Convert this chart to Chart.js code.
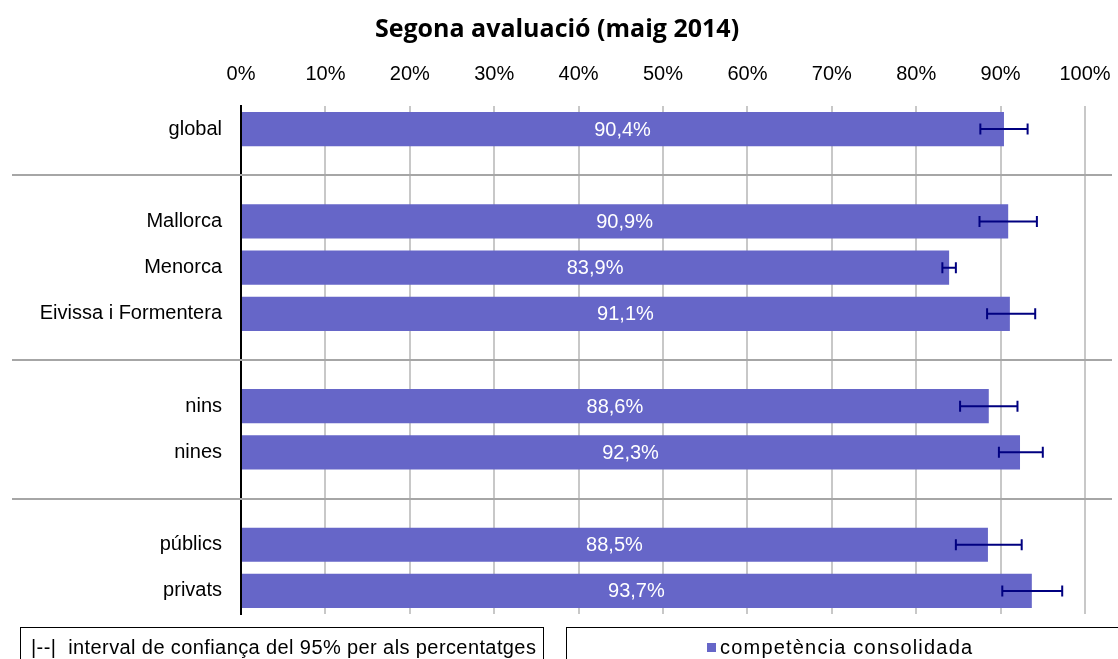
<!DOCTYPE html>
<html lang="ca">
<head>
    <meta charset="UTF-8">
    <title>Segona avaluació (maig 2014)</title>
    <script src="https://cdn.jsdelivr.net/npm/chart.js"></script>
    <style>
        body { margin: 0; background: #fff; }
        #wrap { position: relative; width: 1118px; height: 659px; overflow: hidden; }
        .legendBox {
            position: absolute; top: 627px; height: 40px;
            border: 1.5px solid #000; box-sizing: border-box;
            font-family: "Liberation Sans", Arial, sans-serif; font-size: 20px; color: #000;
            padding-top: 8px; white-space: nowrap;
        }
        #legLeft { left: 20px; width: 524px; padding-left: 10px; letter-spacing: 0.4px; }
        #legRight { left: 566px; width: 570px; padding-left: 140px; letter-spacing: 1.2px; }
        .sq { display: inline-block; width: 9px; height: 9px; background: #6666c8; margin-right: 4px; vertical-align: 2px; }
    </style>
</head>
<body>
<div id="wrap">
    <canvas id="chart" width="1118" height="659"></canvas>
    <div class="legendBox" id="legLeft">|--|&nbsp; interval de confiança del 95% per als percentatges</div>
    <div class="legendBox" id="legRight"><span class="sq"></span>competència consolidada</div>
</div>

<script>
    // categories (empty strings are the gaps between groups)
    const categories = ['global', '', 'Mallorca', 'Menorca', 'Eivissa i Formentera', '', 'nins', 'nines', '', 'públics', 'privats'];
    // percentage with consolidated competence
    const values = [90.4, null, 90.9, 83.9, 91.1, null, 88.6, 92.3, null, 88.5, 93.7];
    // 95% confidence interval
    const ciLow = [87.6, null, 87.5, 83.1, 88.4, null, 85.2, 89.8, null, 84.7, 90.2];
    const ciHigh = [93.2, null, 94.3, 84.7, 94.1, null, 92.0, 95.0, null, 92.5, 97.3];
    const xTicks = [0, 10, 20, 30, 40, 50, 60, 70, 80, 90, 100];

    const barColor = '#6666c8';
    const fontFamily = '"Liberation Sans", Arial, sans-serif';

    // title, group separators, error bars and value labels
    const extras = {
        id: 'extras',
        beforeDatasetsDraw(chart) {
            const ctx = chart.ctx;
            const y = chart.scales.y;
            ctx.save();
            ctx.strokeStyle = '#a6a6a6';
            ctx.lineWidth = 2;
            categories.forEach((c, i) => {
                if (c !== '') return;
                const py = Math.round(y.getPixelForValue(i));
                ctx.beginPath();
                ctx.moveTo(12, py);
                ctx.lineTo(1112, py);
                ctx.stroke();
            });
            ctx.restore();
        },
        afterDatasetsDraw(chart) {
            const ctx = chart.ctx;
            const x = chart.scales.x;
            const y = chart.scales.y;
            ctx.save();
            // value labels
            ctx.fillStyle = '#fff';
            ctx.font = '20px ' + fontFamily;
            ctx.textAlign = 'center';
            ctx.textBaseline = 'middle';
            values.forEach((v, i) => {
                if (v === null) return;
                const cx = (x.getPixelForValue(0) + x.getPixelForValue(v)) / 2;
                ctx.fillText(v.toFixed(1).replace('.', ',') + '%', cx, y.getPixelForValue(i) + 1);
            });
            // error bars
            ctx.strokeStyle = '#000080';
            ctx.lineWidth = 2;
            values.forEach((v, i) => {
                if (v === null) return;
                const py = y.getPixelForValue(i);
                const x1 = x.getPixelForValue(ciLow[i]);
                const x2 = x.getPixelForValue(ciHigh[i]);
                ctx.beginPath();
                ctx.moveTo(x1, py); ctx.lineTo(x2, py);
                ctx.moveTo(x1, py - 5.5); ctx.lineTo(x1, py + 5.5);
                ctx.moveTo(x2, py - 5.5); ctx.lineTo(x2, py + 5.5);
                ctx.stroke();
            });
            // title
            ctx.fillStyle = '#000';
            ctx.font = 'bold 25px "Open Sans", Lato, sans-serif';
            ctx.textBaseline = 'alphabetic';
            ctx.fillText('Segona avaluació (maig 2014)', 557, 37);
            ctx.restore();
        }
    };

    new Chart(document.getElementById('chart'), {
        type: 'bar',
        data: {
            labels: categories,
            datasets: [{
                label: 'competència consolidada',
                data: values,
                backgroundColor: barColor,
                barPercentage: 0.74,
                categoryPercentage: 1.0
            }]
        },
        options: {
            indexAxis: 'y',
            responsive: false,
            animation: false,
            layout: { padding: { left: 0, right: 33, top: 0, bottom: 45 } },
            plugins: {
                legend: { display: false },
                title: { display: false },
                tooltip: { enabled: false }
            },
            scales: {
                x: {
                    position: 'top',
                    min: 0,
                    max: 100,
                    afterBuildTicks: (s) => { s.ticks = xTicks.map(v => ({ value: v })); },
                    afterFit: (s) => { s.height = 106; s.paddingLeft = 0; s.paddingRight = 0; },
                    ticks: {
                        callback: (v) => v + '%',
                        color: '#000',
                        font: { family: fontFamily, size: 20 },
                        padding: 20,
                        maxRotation: 0
                    },
                    grid: { color: '#c8c8c8', lineWidth: 2, drawTicks: false },
                    border: { display: false }
                },
                y: {
                    afterFit: (s) => { s.width = 241; s.paddingTop = 0; s.paddingBottom = 0; },
                    ticks: {
                        color: '#000',
                        font: { family: fontFamily, size: 20 },
                        padding: 19,
                        autoSkip: false
                    },
                    grid: { display: false, drawTicks: false },
                    border: { display: true, color: '#000', width: 2 }
                }
            }
        },
        plugins: [extras]
    });
</script>
</body>
</html>
